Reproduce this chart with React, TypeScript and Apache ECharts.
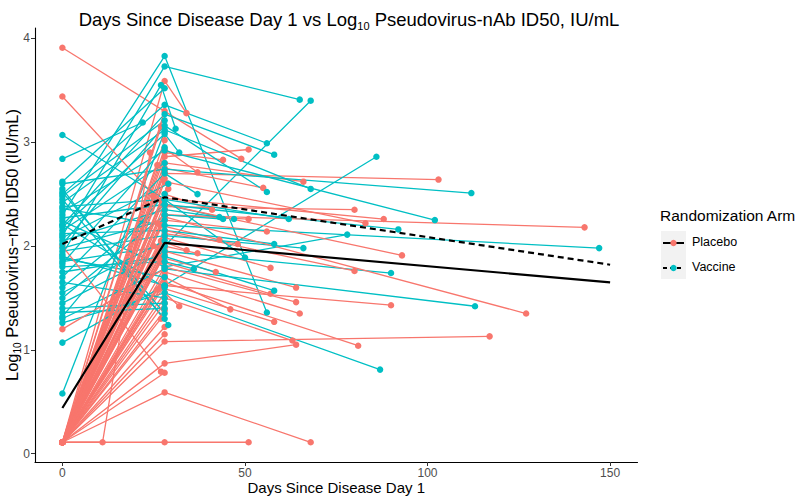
import React, { useEffect, useRef } from "react";
import * as echarts from "echarts";

// ---------------- Data (days since disease day 1, log10 ID50) ----------------
const LOD = 0.11;

// Placebo subjects: each is a list of [day, log10 value]
const placeboSubjects: [number, number][][] = [
  [[0, 3.91], [49, 2.84]],
  [[0, LOD], [28, 3.59], [34, 3.28]],
  [[0, LOD], [28, 2.86], [51, 2.93]],
  [[0, LOD], [28, 2.9], [44, 2.83]],
  [[0, LOD], [28, 2.94], [37, 2.71]],
  [[0, LOD], [28, 2.7], [103, 2.64]],
  [[0, LOD], [28, 2.8], [66, 2.62]],
  [[0, LOD], [28, 2.75], [55, 2.56]],
  [[0, 3.44], [28, 2.38], [80, 2.35]],
  [[0, LOD], [28, 2.5], [41, 2.35]],
  [[0, LOD], [28, 2.46], [88, 2.26]],
  [[0, LOD], [28, 2.3], [51, 2.26]],
  [[0, LOD], [28, 2.62], [83, 2.22]],
  [[0, LOD], [28, 2.3], [143, 2.18]],
  [[0, LOD], [28, 2.25], [56, 2.14]],
  [[0, LOD], [27, 2.2], [43, 2.06]],
  [[0, LOD], [28, 2.12], [48, 2.02]],
  [[0, LOD], [27, 2.05], [34, 1.96]],
  [[0, LOD], [28, 2.0], [37, 1.93]],
  [[0, LOD], [28, 2.4], [93, 1.91]],
  [[0, LOD], [26, 1.9], [42, 1.75]],
  [[0, LOD], [28, 2.08], [57, 1.79]],
  [[0, LOD], [28, 2.15], [80, 1.76]],
  [[0, LOD], [28, 1.95], [64, 1.6]],
  [[0, LOD], [27, 1.85], [57, 1.54]],
  [[0, LOD], [28, 1.8], [64, 1.46]],
  [[0, LOD], [28, 1.62], [90, 1.43]],
  [[0, LOD], [28, 1.75], [65, 1.35]],
  [[0, LOD], [28, 1.55], [32, 1.42]],
  [[0, LOD], [28, 1.7], [46, 1.39]],
  [[0, LOD], [28, 2.28], [127, 1.35]],
  [[0, LOD], [27, 1.6], [58, 1.27]],
  [[0, LOD], [28, 1.08], [117, 1.13]],
  [[0, LOD], [28, 1.5], [63, 1.09]],
  [[0, LOD], [28, 0.87], [64, 1.05]],
  [[0, LOD], [28, 1.65], [81, 1.04]],
  [[0, LOD], [28, LOD], [51, LOD]],
  [[0, LOD], [28, 0.59], [68, LOD]],
  [[0, LOD], [11, LOD], [24, 2.9]],
  [[0, 1.2], [28, 1.78]],
  [[0, 2.0], [27, 0.79]],
  [[0, LOD], [28, 0.78]],
  [[0, LOD], [28, 1.15]],
  [[0, LOD], [28, 3.3]],
  [[0, LOD], [27, 3.15]],
  [[0, LOD], [28, 3.02]],
  [[0, LOD], [26, 2.78]],
  [[0, LOD], [28, 2.65]],
  [[0, LOD], [29, 2.55]],
  [[0, LOD], [27, 2.44]],
  [[0, LOD], [28, 2.35]],
  [[0, LOD], [26, 2.22]],
  [[0, LOD], [28, 2.1]],
  [[0, LOD], [25, 2.0]],
  [[0, LOD], [28, 1.92]],
  [[0, LOD], [27, 1.88]],
  [[0, LOD], [28, 1.72]],
  [[0, LOD], [26, 1.58]],
  [[0, LOD], [28, 1.45]],
  [[0, LOD], [28, 1.38]],
  [[0, LOD], [27, 1.3]],
  [[0, LOD], [28, 1.22]],
  [[0, LOD], [29, 2.6]],
  [[0, LOD], [28, 2.72]],
  [[0, LOD], [25, 2.48]],
  [[0, LOD], [28, 1.98]],
];

// Vaccine subjects
const vaccineSubjects: [number, number][][] = [
  [[0, 2.3], [28, 3.83], [56, 1.36]],
  [[0, 2.1], [28, 3.73], [65, 3.41]],
  [[0, 1.85], [28, 2.0], [68, 3.4]],
  [[0, 2.5], [28, 3.36], [56, 2.99]],
  [[0, 2.2], [28, 3.27], [58, 2.88]],
  [[0, 1.9], [28, 1.62], [86, 2.86]],
  [[0, 2.42], [28, 3.12], [68, 2.55]],
  [[0, 2.02], [28, 3.16], [56, 2.52]],
  [[0, 1.7], [28, 2.7], [37, 2.5]],
  [[0, 2.33], [28, 2.92], [102, 2.25]],
  [[0, 2.6], [28, 2.74], [112, 2.51]],
  [[0, 1.6], [28, 2.4], [92, 2.16]],
  [[0, 2.24], [28, 1.8], [78, 2.11]],
  [[0, 2.38], [28, 2.45], [62, 2.26]],
  [[0, 2.05], [28, 2.35], [47, 2.26]],
  [[0, 1.5], [28, 2.3], [44, 2.26]],
  [[0, 2.27], [28, 2.4], [43, 2.28]],
  [[0, 2.36], [28, 2.2], [147, 1.98]],
  [[0, 2.12], [28, 2.15], [58, 2.02]],
  [[0, 1.95], [28, 2.1], [66, 1.98]],
  [[0, 1.8], [28, 1.85], [36, 1.78]],
  [[0, 1.45], [28, 1.95], [90, 1.74]],
  [[0, 3.07], [28, 2.45], [50, 1.89]],
  [[0, 1.75], [28, 1.9], [58, 1.57]],
  [[0, 1.3], [28, 1.78], [113, 1.42]],
  [[0, 1.26], [28, 1.55], [87, 0.81]],
  [[0, 2.84], [22, 3.19]],
  [[0, 2.18], [28, 3.08], [32, 2.9]],
  [[0, 1.92], [27, 3.55], [31, 3.13]],
  [[0, 1.07], [28, 1.62]],
  [[0, 0.58], [28, 3.1]],
  [[0, 2.55], [29, 1.24]],
  [[0, 2.62], [28, 3.52]],
  [[0, 2.48], [28, 3.21]],
  [[0, 2.15], [28, 2.8]],
  [[0, 2.08], [29, 2.6]],
  [[0, 1.98], [28, 2.25]],
  [[0, 1.88], [28, 1.7]],
  [[0, 1.65], [28, 1.5]],
  [[0, 1.55], [28, 2.05]],
  [[0, 1.4], [28, 1.45]],
  [[0, 1.36], [28, 1.4]],
  [[0, 1.32], [28, 2.5]],
  [[0, 2.52], [28, 1.35]],
  [[0, 2.45], [28, 1.3]],
  [[0, 2.21], [28, 1.6]],
  [[0, 1.83], [28, 2.95]],
];

// Model-based mean trajectories
const placeboMean: [number, number][] = [[0, 0.44], [28, 2.03], [150, 1.65]];
const vaccineMean: [number, number][] = [[0, 2.02], [28, 2.47], [150, 1.82]];

const xTicks = [0, 50, 100, 150];
const yTicks = [0, 1, 2, 3, 4];

const RED = "#F8766D";
const CYAN = "#00BFC4";
const FONT = "Liberation Sans, Arial, sans-serif";

export default function App() {
  const ref = useRef<HTMLDivElement>(null);
  useEffect(() => {
    if (!ref.current) return;
    const chart = echarts.init(ref.current, undefined, { renderer: "svg" });

    const lineSeries: any[] = [];
    const n = Math.max(placeboSubjects.length, vaccineSubjects.length);
    for (let i = 0; i < n; i++) {
      if (i < placeboSubjects.length)
        lineSeries.push({
          type: "line",
          data: placeboSubjects[i],
          showSymbol: false,
          silent: true,
          z: 2,
          lineStyle: { color: RED, width: 1.3 },
        });
      if (i < vaccineSubjects.length)
        lineSeries.push({
          type: "line",
          data: vaccineSubjects[i],
          showSymbol: false,
          silent: true,
          z: 2,
          lineStyle: { color: CYAN, width: 1.3 },
        });
    }

    const option: any = {
      animation: false,
      backgroundColor: "#ffffff",
      title: {
        text: "Days Since Disease Day 1 vs Log{sub|10} Pseudovirus-nAb ID50, IU/mL",
        left: 344,
        top: 3,
        textAlign: "center",
        textStyle: {
          fontFamily: FONT,
          fontSize: 18.5,
          fontWeight: "normal",
          color: "#000",
          rich: {
            sub: { fontSize: 11, fontFamily: FONT, padding: [12, 0, 0, 0] },
          },
        },
      },
      grid: { left: 35, right: 162.5, top: 28, bottom: 38, containLabel: false, outerBoundsMode: "none" },
      xAxis: {
        type: "value",
        min: -7.5,
        max: 157.5,
        name: "Days Since Disease Day 1",
        nameLocation: "middle",
        nameGap: 18,
        nameMoveOverlap: false,
        nameTextStyle: { fontFamily: FONT, fontSize: 15, color: "#000" },
        splitLine: { show: false },
        axisLine: { onZero: false, lineStyle: { color: "#000", width: 1.1 } },
        axisTick: { customValues: xTicks, length: 4, lineStyle: { color: "#333" } },
        axisLabel: { customValues: xTicks, fontFamily: FONT, fontSize: 12, color: "#4D4D4D", margin: 5 },
      },
      yAxis: {
        type: "value",
        min: -0.08,
        max: 4.1,
        name: "Log{sub|10} Pseudovirus−nAb ID50 (IU/mL)",
        nameLocation: "middle",
        nameRotate: 90,
        nameGap: 13,
        nameMoveOverlap: false,
        nameTextStyle: {
          fontFamily: FONT,
          fontSize: 16.5,
          color: "#000",
          rich: { sub: { fontSize: 10, fontFamily: FONT, padding: [11, 0, 0, 0] } },
        },
        splitLine: { show: false },
        axisLine: { show: true, onZero: false, lineStyle: { color: "#000", width: 1.1 } },
        axisTick: { show: true, customValues: yTicks, length: 4, lineStyle: { color: "#333" } },
        axisLabel: { customValues: yTicks, fontFamily: FONT, fontSize: 12, color: "#4D4D4D", margin: 5 },
      },
      series: [
        ...lineSeries,
        {
          type: "scatter",
          data: placeboSubjects.flat(),
          symbolSize: 6.5,
          silent: true,
          z: 3,
          itemStyle: { color: RED, opacity: 1 },
        },
        {
          type: "scatter",
          data: vaccineSubjects.flat(),
          symbolSize: 6.5,
          silent: true,
          z: 3,
          itemStyle: { color: CYAN, opacity: 1 },
        },
        {
          type: "line",
          data: placeboMean,
          showSymbol: false,
          silent: true,
          z: 4,
          lineStyle: { color: "#000", width: 2.2 },
        },
        {
          type: "line",
          data: vaccineMean,
          showSymbol: false,
          silent: true,
          z: 4,
          lineStyle: { color: "#000", width: 2.2, type: [6, 4] },
        },
      ],
      graphic: [
        { type: "text", left: 660, top: 207, style: { text: "Randomization Arm", fontFamily: FONT, fontSize: 15.5, fill: "#000" } },
        { type: "rect", shape: { x: 661, y: 231, width: 25, height: 48 }, style: { fill: "#F2F2F2" }, z: 1 },
        { type: "line", shape: { x1: 663, y1: 243, x2: 684, y2: 243 }, style: { stroke: "#000", lineWidth: 2 }, z: 2 },
        { type: "circle", shape: { cx: 673.5, cy: 243, r: 3.2 }, style: { fill: RED }, z: 3 },
        { type: "line", shape: { x1: 663, y1: 268, x2: 684, y2: 268 }, style: { stroke: "#000", lineWidth: 2, lineDash: [4, 3] }, z: 2 },
        { type: "circle", shape: { cx: 673.5, cy: 268, r: 3.2 }, style: { fill: CYAN }, z: 3 },
        { type: "text", left: 692, top: 235, style: { text: "Placebo", fontFamily: FONT, fontSize: 12.5, fill: "#000" } },
        { type: "text", left: 692, top: 260, style: { text: "Vaccine", fontFamily: FONT, fontSize: 12.5, fill: "#000" } },
      ],
    };

    chart.setOption(option);
    return () => chart.dispose();
  }, []);

  return <div ref={ref} style={{ position: "absolute", left: 0, top: 0, width: 800, height: 500 }} />;
}
